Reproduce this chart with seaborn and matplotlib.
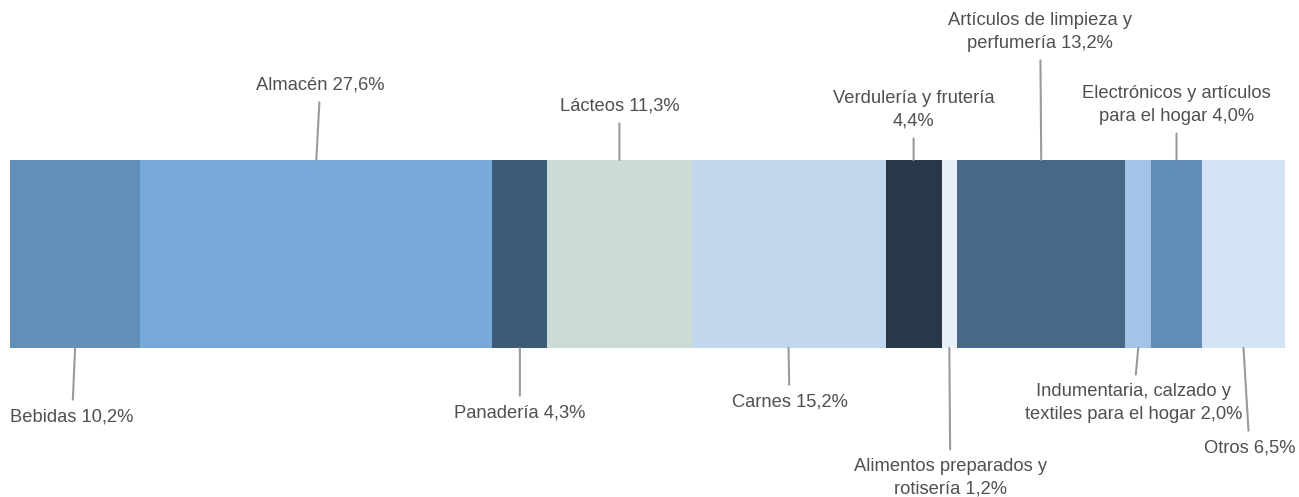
import numpy as np
import pandas as pd
import matplotlib
matplotlib.use('Agg')
import matplotlib.pyplot as plt
import seaborn as sns

# share of sales by category (%)
categories = ['Bebidas', 'Almacén', 'Panadería', 'Lácteos', 'Carnes',
              'Verdulería y frutería', 'Alimentos preparados y rotisería',
              'Artículos de limpieza y perfumería', 'Indumentaria, calzado y textiles para el hogar',
              'Electrónicos y artículos para el hogar', 'Otros']
shares = [10.2, 27.6, 4.3, 11.3, 15.2, 4.4, 1.2, 13.2, 2.0, 4.0, 6.5]
labels = ['Bebidas 10,2%', 'Almacén 27,6%', 'Panadería 4,3%', 'Lácteos 11,3%',
          'Carnes 15,2%', 'Verdulería y frutería\n4,4%',
          'Alimentos preparados y\nrotisería 1,2%',
          'Artículos de limpieza y\nperfumería 13,2%',
          'Indumentaria, calzado y\ntextiles para el hogar 2,0%',
          'Electrónicos y artículos\npara el hogar 4,0%', 'Otros 6,5%']
colors = ['#628fb8', '#77a9d9', '#3d5a76', '#cbdcd4', '#c0d7ee', '#283848',
          '#e8f0f8', '#486887', '#a3c4e6', '#628db8', '#d4e3f3']

# label side (+1 above, -1 below) and offsets in pixels from segment centre
side = [-1, 1, -1, 1, -1, 1, -1, 1, -1, 1, -1]
dx = [-3, 4, 0, 0, 1, 0, 1, -1, -5, 0, 6]
dy = [69, 75, 65, 54, 54, 50, 130, 128, 55, 55, 100]

df = pd.DataFrame({'cat': categories, 'share': shares, 'color': colors})
df['cum'] = df['share'].cumsum()
df['mid'] = df['cum'] - df['share'] / 2
df['row'] = 'total'

sns.set_style('white')
plt.rcParams['font.family'] = ['Liberation Sans', 'DejaVu Sans']

fig = plt.figure(figsize=(12.99, 4.97), dpi=100)
ax = fig.add_axes([10 / 1299, 0, 1275 / 1299, 1])

# stacked bar: draw cumulative totals from longest to shortest
for i in range(len(df) - 1, -1, -1):
    sns.barplot(x=[df['cum'][i]], y=['total'], color=df['color'][i],
                width=1, saturation=1, orient='h', ax=ax, linewidth=0)

ax.set_xlim(0, df['cum'].iloc[-1])
ax.set_ylim(0.5 + 149 / 188, -0.5 - 160 / 188)
ax.axis('off')

for i in range(len(df)):
    s = side[i]
    y0 = -0.5 if s > 0 else 0.5
    ax.annotate(labels[i], xy=(df['mid'][i], y0), xycoords='data',
                xytext=(dx[i], s * dy[i]), textcoords='offset pixels',
                ha='center', va='center', fontsize=13.2, color='#505050',
                linespacing=1.4,
                arrowprops=dict(arrowstyle='-', color='#9a9a9a', lw=1.5,
                                shrinkA=4, shrinkB=0))

fig.savefig('out.png', dpi=100)
